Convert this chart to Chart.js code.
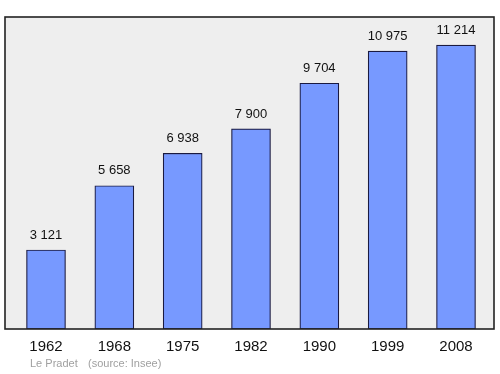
<!DOCTYPE html>
<html>
<head>
<meta charset="utf-8">
<script src="https://cdn.jsdelivr.net/npm/chart.js"></script>
<style>
  body { margin: 0; background: #fff; }
  canvas { display: block; }
</style>
</head>
<body>
<canvas id="chart" width="500" height="374"></canvas>
<script>
const years = ['1962', '1968', '1975', '1982', '1990', '1999', '2008'];
const population = [3121, 5658, 6938, 7900, 9704, 10975, 11214];
const town = 'Le Pradet';
const source = '(source: Insee)';

const fmt = v => String(v).replace(/\B(?=(\d{3})+(?!\d))/g, ' ');

const frame = {
    id: 'frame',
    beforeDatasetsDraw(chart) {
        const {ctx, chartArea: a} = chart;
        ctx.save();
        ctx.fillStyle = '#eeeeee';
        ctx.fillRect(a.left, a.top, a.right - a.left, a.bottom - a.top);
        ctx.restore();
    },
    afterDatasetsDraw(chart) {
        const {ctx, chartArea: a, scales: {x, y}} = chart;
        ctx.save();
        ctx.strokeStyle = '#222';
        ctx.lineWidth = 1.6;
        ctx.strokeRect(a.left, a.top, a.right - a.left, a.bottom - a.top);

        ctx.textAlign = 'center';
        ctx.textBaseline = 'middle';
        ctx.fillStyle = '#111';
        ctx.font = '13px "Liberation Sans", Arial, sans-serif';
        population.forEach((v, i) => {
            ctx.fillText(fmt(v), x.getPixelForValue(i), y.getPixelForValue(v) - 15);
        });

        ctx.font = '15px "Liberation Sans", Arial, sans-serif';
        years.forEach((yr, i) => {
            ctx.fillText(yr, x.getPixelForValue(i), a.bottom + 18);
        });

        ctx.textAlign = 'left';
        ctx.fillStyle = '#a0a0a0';
        ctx.font = '11px "Liberation Sans", Arial, sans-serif';
        ctx.fillText(town, 30, a.bottom + 35);
        ctx.fillText(source, 88, a.bottom + 35);
        ctx.restore();
    }
};

new Chart(document.getElementById('chart'), {
    type: 'bar',
    data: {
        datasets: [{
            data: population.map((v, i) => ({x: i, y: v})),
            backgroundColor: '#7799ff',
            borderColor: '#1a1a40',
            borderWidth: 1.2,
            borderSkipped: false,
            barThickness: 39
        }]
    },
    options: {
        responsive: false,
        animation: false,
        layout: { padding: { left: 5, right: 6, top: 17, bottom: 45 } },
        plugins: { legend: { display: false }, tooltip: { enabled: false } },
        scales: {
            x: { type: 'linear', min: -0.6, max: 6.556, offset: false, display: false },
            y: { min: 0, max: 12320, display: false }
        }
    },
    plugins: [frame]
});
</script>
</body>
</html>
